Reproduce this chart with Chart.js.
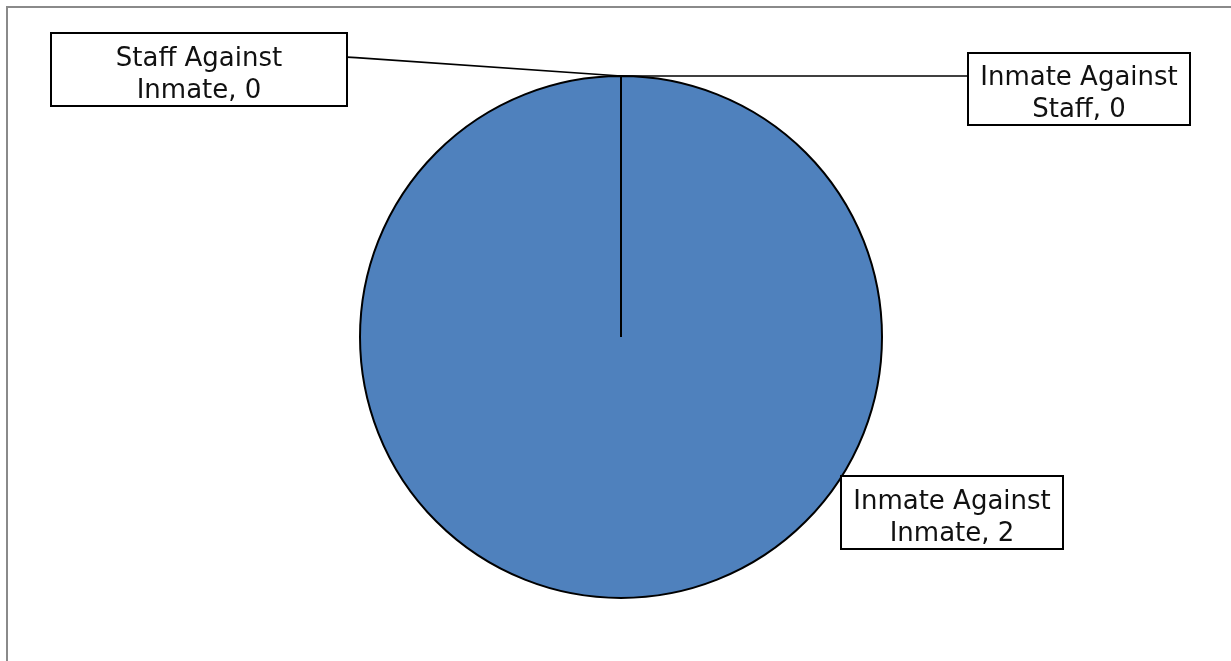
<!DOCTYPE html>
<html>
<head>
<meta charset="utf-8">
<script src="https://cdn.jsdelivr.net/npm/chart.js@4/dist/chart.umd.min.js"></script>
<style>
  html, body { margin: 0; padding: 0; background: #ffffff; overflow: hidden; }
  #wrap { position: relative; width: 1231px; height: 661px; }
  canvas { display: block; }
</style>
</head>
<body>
<div id="wrap"><canvas id="c" width="1231" height="661"></canvas></div>
<script>
// ---- data ----
const categories = ['Inmate Against Staff', 'Inmate Against Inmate', 'Staff Against Inmate'];
const incidentCounts = [0, 2, 0];
const sliceColors = ['#4F81BD', '#4F81BD', '#4F81BD'];

// ---- label layout (box centre offset from pie centre, box size, leader route) ----
const labelLayout = [
  { dx: 458, dy: -248, w: 222, h: 72, leader: 'left-horizontal' },
  { dx: 331, dy: 175.5, w: 222, h: 73, leader: 'none' },
  { dx: -422, dy: -267.5, w: 296, h: 73, leader: 'right-elbow' }
];

const FONT = '26px "DejaVu Sans", Verdana, sans-serif';

const framePlugin = {
  id: 'frame',
  beforeDraw(chart) {
    const ctx = chart.ctx;
    ctx.save();
    ctx.strokeStyle = '#8a8a8a';
    ctx.lineWidth = 2;
    ctx.strokeRect(7, 7, 1400, 900);
    ctx.restore();
  }
};

function splitLabel(label, value) {
  const i = label.lastIndexOf(' ');
  return [label.slice(0, i), label.slice(i + 1) + ', ' + value];
}

const labelPlugin = {
  id: 'boxLabels',
  afterDatasetsDraw(chart) {
    const ctx = chart.ctx;
    const meta = chart.getDatasetMeta(0);
    const ds = chart.data.datasets[0];
    meta.data.forEach((arc, i) => {
      const lay = labelLayout[i];
      const p = arc.getProps(['x', 'y', 'startAngle', 'endAngle', 'outerRadius'], true);
      const cx = p.x, cy = p.y, r = p.outerRadius;
      const bx = cx + lay.dx, by = cy + lay.dy;
      const left = bx - lay.w / 2, top = by - lay.h / 2;
      const mid = (p.startAngle + p.endAngle) / 2;
      const ax = cx + Math.cos(mid) * r;
      const ay = cy + Math.sin(mid) * r;
      ctx.save();
      ctx.strokeStyle = '#000000';
      ctx.lineWidth = 1.6;
      if (lay.leader === 'left-horizontal') {
        ctx.beginPath();
        ctx.moveTo(ax, ay);
        ctx.lineTo(left, ay);
        ctx.stroke();
      } else if (lay.leader === 'right-elbow') {
        const ly = top + lay.h * 0.33;
        ctx.beginPath();
        ctx.moveTo(left + lay.w, ly);
        ctx.lineTo(left + lay.w + 9, ly + 0.5);
        ctx.lineTo(ax, ay);
        ctx.stroke();
      }
      ctx.lineWidth = 2;
      ctx.fillStyle = '#ffffff';
      ctx.fillRect(left, top, lay.w, lay.h);
      ctx.strokeRect(left, top, lay.w, lay.h);
      const lines = splitLabel(chart.data.labels[i], ds.data[i]);
      ctx.fillStyle = '#111111';
      ctx.font = FONT;
      ctx.textAlign = 'center';
      ctx.textBaseline = 'alphabetic';
      ctx.fillText(lines[0], bx, by - 4);
      ctx.fillText(lines[1], bx, by + 28);
      ctx.restore();
    });
  }
};

new Chart(document.getElementById('c'), {
  type: 'pie',
  data: {
    labels: categories,
    datasets: [{
      data: incidentCounts,
      backgroundColor: sliceColors,
      borderColor: '#000000',
      borderWidth: 2
    }]
  },
  options: {
    responsive: false,
    animation: false,
    devicePixelRatio: 1,
    layout: { padding: { top: 75, bottom: 62, left: 11, right: 0 } },
    plugins: {
      legend: { display: false },
      tooltip: { enabled: false },
      title: { display: false }
    }
  },
  plugins: [framePlugin, labelPlugin]
});
</script>
</body>
</html>
